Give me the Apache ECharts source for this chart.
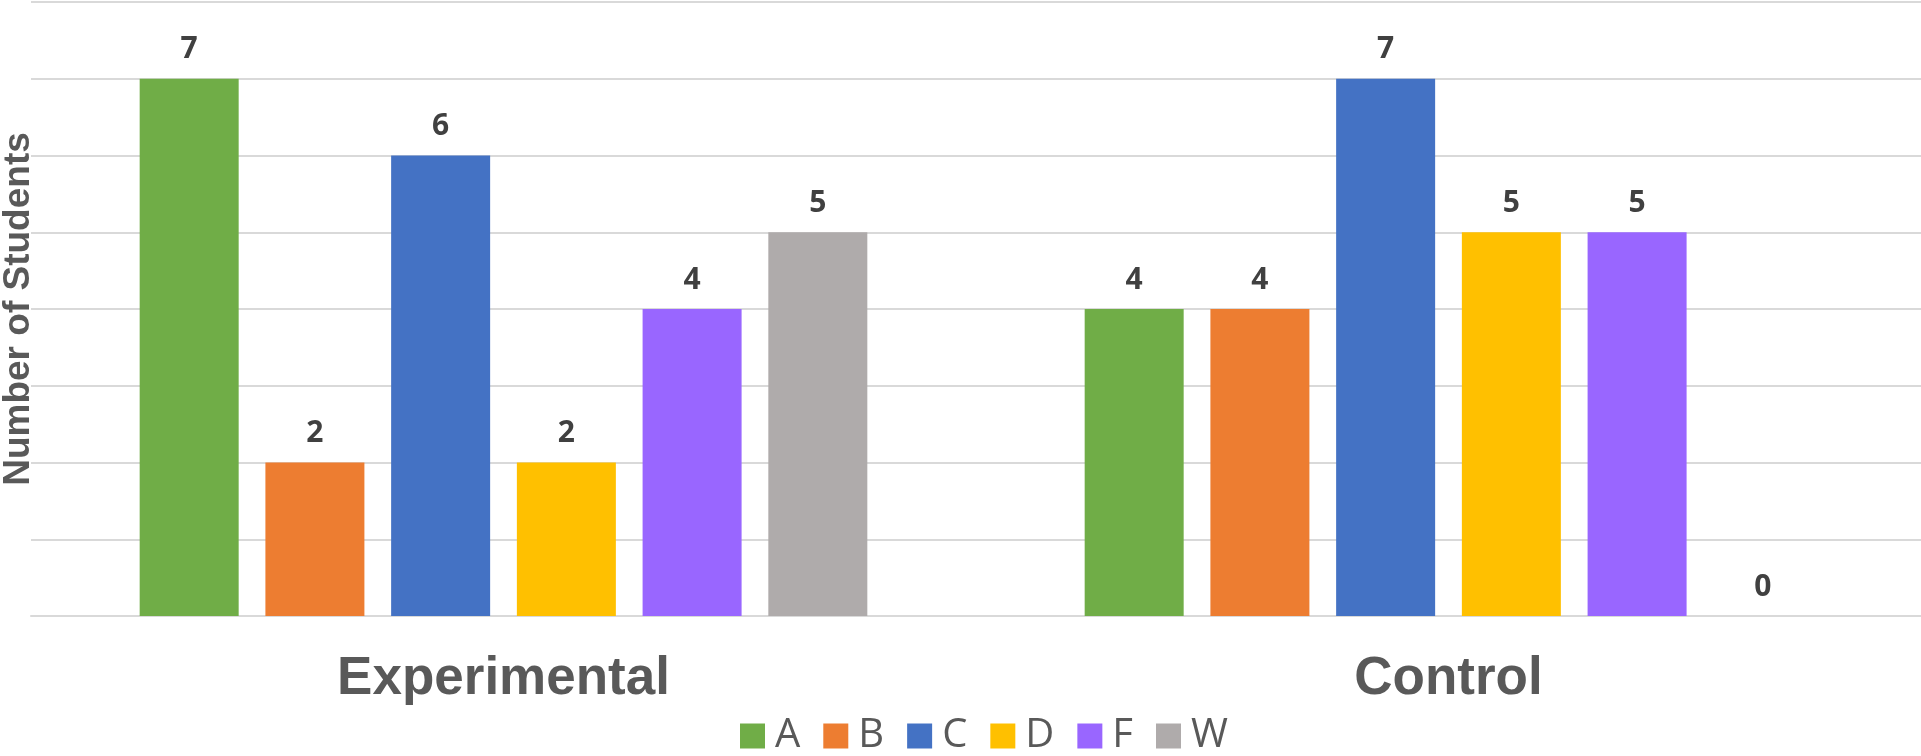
<!DOCTYPE html>
<html>
<head>
<meta charset="utf-8">
<style>
  html, body { margin: 0; padding: 0; background: #fff; }
  #chart { width: 1921px; height: 756px; }
</style>
<script src="https://cdn.jsdelivr.net/npm/echarts@6/dist/echarts.min.js"></script>
</head>
<body>
<div id="chart"></div>
<script>
const groups = ['Experimental', 'Control']
const grades = ['A', 'B', 'C', 'D', 'F', 'W']
const gradeA = [7, 4]
const gradeB = [2, 4]
const gradeC = [6, 7]
const gradeD = [2, 5]
const gradeF = [4, 5]
const gradeW = [5, 0]
const colors = ['#70ad47', '#ed7d31', '#4472c4', '#ffc000', '#9966ff', '#afabab']

const values = [gradeA, gradeB, gradeC, gradeD, gradeF, gradeW]

const chart = echarts.init(document.getElementById('chart'))
chart.setOption({
  animation: false,
  grid: {
    left: 31,
    right: 0,
    top: 2,
    bottom: 140,
    containLabel: false,
    outerBoundsMode: 'none'
  },
  legend: {
    data: grades,
    top: 716,
    left: 740,
    padding: 0,
    itemWidth: 25,
    itemHeight: 25,
    itemGap: 23,
    icon: 'rect',
    textStyle: {
      fontFamily: 'Open Sans',
      fontSize: 40,
      color: '#595959',
      padding: [0, 0, 0, 5]
    }
  },
  xAxis: {
    type: 'category',
    data: groups,
    axisTick: { show: false },
    axisLine: {
      lineStyle: { color: '#d9d9d9', width: 2 }
    },
    axisLabel: {
      fontFamily: 'Liberation Sans',
      fontWeight: 'bold',
      fontSize: 53,
      color: '#595959',
      margin: 37
    }
  },
  yAxis: {
    type: 'value',
    min: 0,
    max: 8,
    interval: 1,
    name: 'Number of Students',
    nameLocation: 'middle',
    nameGap: -6,
    nameTextStyle: {
      fontFamily: 'Liberation Sans',
      fontWeight: 'bold',
      fontSize: 37,
      color: '#595959'
    },
    axisLabel: { show: false },
    axisTick: { show: false },
    axisLine: { show: false },
    splitLine: {
      lineStyle: { color: '#d9d9d9', width: 2 }
    }
  },
  series: grades.map((g, i) => ({
    name: g,
    type: 'bar',
    data: values[i],
    barGap: '27%',
    barCategoryGap: '23%',
    itemStyle: { color: colors[i] },
    label: {
      show: true,
      position: 'top',
      distance: 14,
      fontFamily: 'Open Sans',
      fontWeight: 'bold',
      fontSize: 30,
      color: '#404040'
    }
  }))
})
</script>
</body>
</html>
